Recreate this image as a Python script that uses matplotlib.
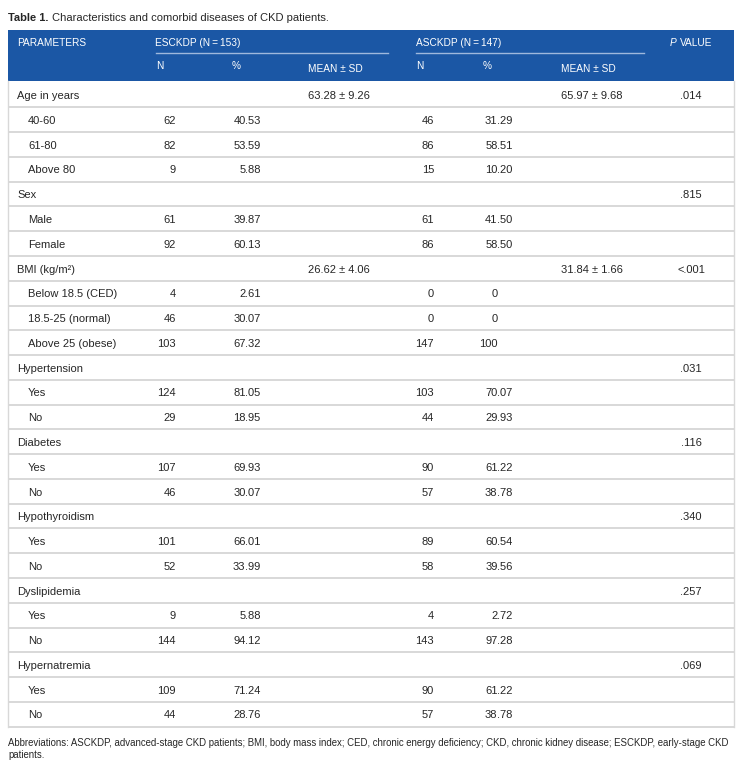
import matplotlib
matplotlib.use("Agg")
import matplotlib.pyplot as plt

plt.rcParams['font.family'] = ['Liberation Sans', 'DejaVu Sans']

# ---------------- data ----------------
title_bold = "Table 1."
title_text = "Characteristics and comorbid diseases of CKD patients."
footnote = ["Abbreviations: ASCKDP, advanced-stage CKD patients; BMI, body mass index; CED, chronic energy deficiency; CKD, chronic kidney disease; ESCKDP, early-stage CKD",
            "patients."]

group_esc = "ESCKDP (N\u2009=\u2009153)"
group_asc = "ASCKDP (N\u2009=\u2009147)"

categories = ["Age in years", "Sex", "BMI (kg/m\u00b2)", "Hypertension", "Diabetes",
              "Hypothyroidism", "Dyslipidemia", "Hypernatremia"]
sub_labels = [["40-60", "61-80", "Above 80"],
              ["Male", "Female"],
              ["Below 18.5 (CED)", "18.5-25 (normal)", "Above 25 (obese)"],
              ["Yes", "No"], ["Yes", "No"], ["Yes", "No"], ["Yes", "No"], ["Yes", "No"]]
esc_n = [[62, 82, 9], [61, 92], [4, 46, 103], [124, 29], [107, 46], [101, 52], [9, 144], [109, 44]]
esc_pct = [["40.53", "53.59", "5.88"], ["39.87", "60.13"], ["2.61", "30.07", "67.32"],
           ["81.05", "18.95"], ["69.93", "30.07"], ["66.01", "33.99"], ["5.88", "94.12"],
           ["71.24", "28.76"]]
asc_n = [[46, 86, 15], [61, 86], [0, 0, 147], [103, 44], [90, 57], [89, 58], [4, 143], [90, 57]]
asc_pct = [["31.29", "58.51", "10.20"], ["41.50", "58.50"], ["0", "0", "100"],
           ["70.07", "29.93"], ["61.22", "38.78"], ["60.54", "39.56"], ["2.72", "97.28"],
           ["61.22", "38.78"]]
esc_mean = ["63.28 \u00b1 9.26", "", "26.62 \u00b1 4.06", "", "", "", "", ""]
asc_mean = ["65.97 \u00b1 9.68", "", "31.84 \u00b1 1.66", "", "", "", "", ""]
p_values = [".014", ".815", "<.001", ".031", ".116", ".340", ".257", ".069"]

# ---------------- layout ----------------
W, H = 742, 767
fig = plt.figure(figsize=(W / 100, H / 100), dpi=100)
ax = fig.add_axes([0, 0, 1, 1])
ax.set_xlim(0, W)
ax.set_ylim(H, 0)
ax.axis('off')

BLUE = '#1b57a5'
TXT = '#262626'
GRID = '#d8d8d8'
FS = 8.0
FSH = 7.3

left, right = 8, 733.5
head_top, head_bot = 29.5, 80.5
body_top, row_h = 82.6, 24.77

x_cat, x_sub = 17, 28
x_esc_n = 176
x_esc_dec = 245.5
x_esc_mean = 308
x_asc_n = 434
x_asc_dec = 497.5
x_asc_mean = 561
x_p = 691

# title
fig.canvas.draw()
renderer = fig.canvas.get_renderer()
t = ax.text(left, 21, title_bold, fontsize=8.0, fontweight='bold', color=TXT, va='baseline', ha='left')
bb = t.get_window_extent(renderer)
x_after = ax.transData.inverted().transform((bb.x1, bb.y0))[0]
ax.text(x_after + 4, 21, title_text, fontsize=8.0, color=TXT, va='baseline', ha='left')

# header
ax.add_patch(plt.Rectangle((left, head_top), right - left, head_bot - head_top,
                           facecolor=BLUE, edgecolor='none'))
ax.text(x_cat, 45.5, "PARAMETERS", fontsize=FSH, color='white', va='baseline')
ax.text(155, 45.5, group_esc, fontsize=FSH, color='white', va='baseline')
ax.text(416, 45.5, group_asc, fontsize=FSH, color='white', va='baseline')
ax.text(670, 45.5, "P", fontsize=FSH, color='white', va='baseline', style='italic')
ax.text(679.5, 45.5, "VALUE", fontsize=FSH, color='white', va='baseline')
ax.plot([156, 388], [53, 53], color='#9fb8dd', lw=1.0)
ax.plot([416, 644], [53, 53], color='#9fb8dd', lw=1.0)
for xs, s, yb in [(156, "N", 69), (232, "%", 69), (308, "MEAN \u00b1 SD", 72),
                  (416, "N", 69), (483, "%", 69), (561, "MEAN \u00b1 SD", 72)]:
    ax.text(xs, yb, s, fontsize=FSH, color='white', va='baseline')


def dec_text(xdec, y, s):
    if '.' in s:
        ip, fp = s.split('.', 1)
        fp = '.' + fp
    else:
        ip, fp = s, ''
    ax.text(xdec, y, ip, fontsize=FS, color=TXT, va='baseline', ha='right')
    if fp:
        ax.text(xdec, y, fp, fontsize=FS, color=TXT, va='baseline', ha='left')


# body
row = 0
for ci, cat in enumerate(categories):
    yb = body_top + (row + 0.5) * row_h + 4.2
    ax.text(x_cat, yb, cat, fontsize=FS, color=TXT, va='baseline')
    if esc_mean[ci]:
        ax.text(x_esc_mean, yb, esc_mean[ci], fontsize=FS, color=TXT, va='baseline')
    if asc_mean[ci]:
        ax.text(x_asc_mean, yb, asc_mean[ci], fontsize=FS, color=TXT, va='baseline')
    ax.text(x_p, yb, p_values[ci], fontsize=FS, color=TXT, va='baseline', ha='center')
    row += 1
    for si, lab in enumerate(sub_labels[ci]):
        yb = body_top + (row + 0.5) * row_h + 4.2
        ax.text(x_sub, yb, lab, fontsize=FS, color=TXT, va='baseline')
        ax.text(x_esc_n, yb, str(esc_n[ci][si]), fontsize=FS, color=TXT, va='baseline', ha='right')
        dec_text(x_esc_dec, yb, esc_pct[ci][si])
        ax.text(x_asc_n, yb, str(asc_n[ci][si]), fontsize=FS, color=TXT, va='baseline', ha='right')
        dec_text(x_asc_dec, yb, asc_pct[ci][si])
        row += 1

n_rows = row
for i in range(1, n_rows + 1):
    y = body_top + i * row_h
    ax.plot([left, right], [y, y], color=GRID, lw=1.4, solid_capstyle='butt')
y_bottom = body_top + n_rows * row_h
ax.plot([left, left], [head_bot, y_bottom], color=GRID, lw=1.0)
ax.plot([right, right], [head_bot, y_bottom], color=GRID, lw=1.0)

# footnote
ax.text(left, 746, footnote[0], fontsize=6.93, color=TXT, va='baseline')
ax.text(left, 758.5, footnote[1], fontsize=6.93, color=TXT, va='baseline')

fig.savefig("out.png", dpi=100)
